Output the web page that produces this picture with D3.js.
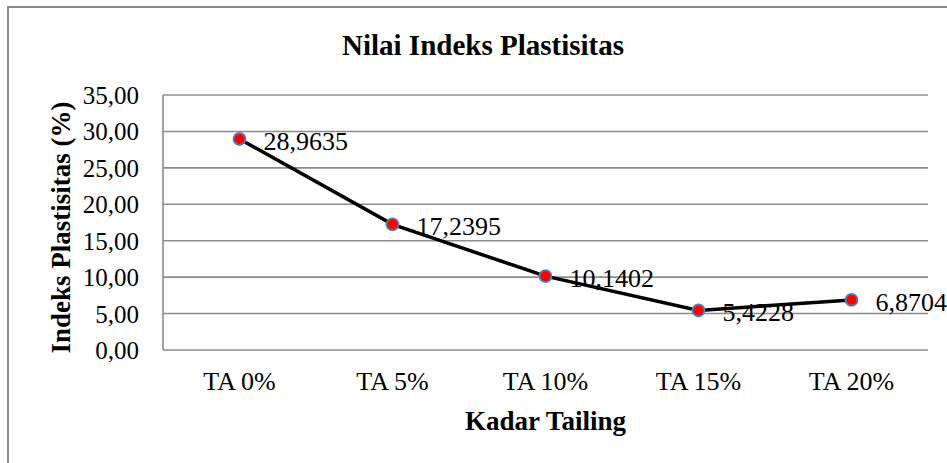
<!DOCTYPE html>
<html><head><meta charset="utf-8">
<script src="https://cdn.jsdelivr.net/npm/d3@7"></script>
<style>body{margin:0;background:#fff}svg{display:block}</style>
</head><body><svg id="c" width="947" height="463"></svg>
<script>
const categories = ["TA 0%", "TA 5%", "TA 10%", "TA 15%", "TA 20%"];
const values = [28.9635, 17.2395, 10.1402, 5.4228, 6.8704];
const valueLabels = ["28,9635", "17,2395", "10,1402", "5,4228", "6,8704"];
const yTicks = [0, 5, 10, 15, 20, 25, 30, 35];
const title = "Nilai Indeks Plastisitas";
const xTitle = "Kadar Tailing";
const yTitle = "Indeks Plastisitas (%)";

const FONT = "'Liberation Serif', 'Times New Roman', serif";
const svg = d3.select("#c");
const m = {l:163, r:928, t:95, b:350};
const fmt = d => d.toFixed(2).replace(".", ",");
const st = (sel, size, bold) => sel.style("font-family", FONT).style("font-size", size + "px")
  .style("font-weight", bold ? "bold" : "normal").style("fill", "#000");

svg.append("path").attr("d","M8,470 L8,7 L950,7").attr("fill","none").attr("stroke","#8a8a8a").attr("stroke-width",2);

const x = d3.scaleBand().domain(categories).range([m.l, m.r]);
const y = d3.scaleLinear().domain([0,35]).range([m.b, m.t]);

svg.append("g").selectAll("line").data(yTicks).join("line")
  .attr("x1", m.l).attr("x2", m.r).attr("y1", d=>y(d)).attr("y2", d=>y(d))
  .attr("stroke","#8c8c8c").attr("stroke-width",1.6);
svg.append("line").attr("x1",m.l).attr("x2",m.l).attr("y1",m.t).attr("y2",m.b).attr("stroke","#8c8c8c").attr("stroke-width",1.6);

const yAxis = d3.axisLeft(y).tickValues(yTicks).tickFormat(fmt).tickSize(0).tickPadding(24);
const ga = svg.append("g").attr("transform",`translate(${m.l},0)`).call(yAxis);
ga.select(".domain").remove();
st(ga.selectAll("text"), 25).attr("dy","0.34em");

const xAxis = d3.axisBottom(x).tickSize(0).tickPadding(0);
const gx = svg.append("g").attr("transform",`translate(0,${m.b})`).call(xAxis);
gx.select(".domain").remove();
st(gx.selectAll("text"), 26).attr("y",31).attr("dy","0.34em");

const cx = d => x(d) + x.bandwidth()/2;
const pts = categories.map((c,i)=>[cx(c), y(values[i])]);
svg.append("path").attr("d", d3.line()(pts)).attr("fill","none").attr("stroke","#000").attr("stroke-width",3.5);

svg.append("g").selectAll("circle").data(pts).join("circle")
  .attr("cx",d=>d[0]).attr("cy",d=>d[1]).attr("r",6)
  .attr("fill","#ff0000").attr("stroke","#4f81bd").attr("stroke-width",1.8);

st(svg.append("g").selectAll("text").data(pts).join("text")
  .attr("x",d=>d[0]+24).attr("y",(d,i)=>d[1]+2).attr("dy","0.34em")
  .text((d,i)=>valueLabels[i]), 26);

st(svg.append("text").attr("x",483).attr("y",55).attr("text-anchor","middle").text(title), 29, true);
st(svg.append("text").attr("x",(m.l+m.r)/2).attr("y",421).attr("dy","0.34em").attr("text-anchor","middle").text(xTitle), 27, true);
st(svg.append("text").attr("transform",`translate(61,${(m.t+m.b)/2+5}) rotate(-90)`).attr("dy","0.34em").attr("text-anchor","middle").text(yTitle), 27, true);
</script></body></html>
